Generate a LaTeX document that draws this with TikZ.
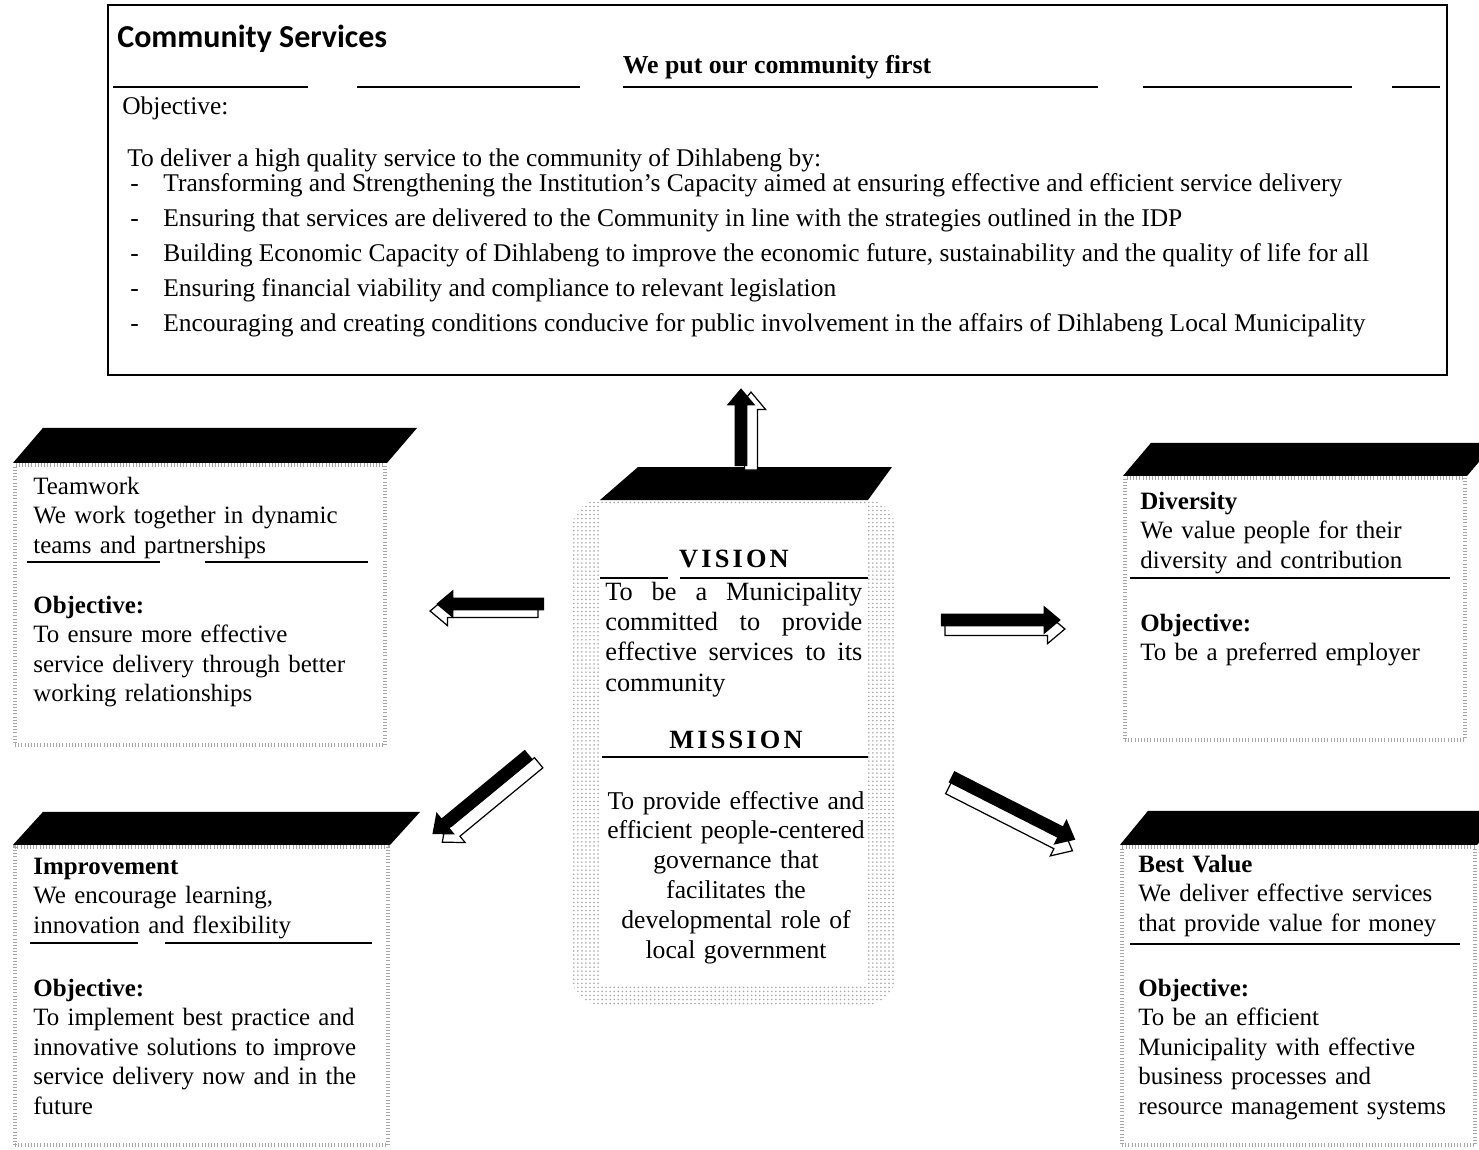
\documentclass[tikz,border=0pt]{standalone}
\usepackage{fontspec}
\setmainfont{Liberation Serif}
\newfontfamily\headfont{Carlito}
\usetikzlibrary{arrows.meta,calc,shapes.arrows,patterns.meta}

\begin{document}
\begin{tikzpicture}[
        x=0.02cm, y=-0.02cm,
        font=\fontsize{14.2}{16.8}\selectfont,
        txt/.style={anchor=base west, inner sep=0pt},
        para/.style={anchor=base west, inner sep=0pt, text width=8cm, align=left},
        ctr/.style={anchor=base, inner sep=0pt},
        toptxt/.style={font=\fontsize{14.5}{17}\selectfont},
        headword/.style={font=\bfseries\fontsize{15}{17}\selectfont\addfontfeature{LetterSpace=12}},
        frame/.style={draw=gray!70, line width=2.4pt, dash pattern=on 0.5pt off 1.3pt, inner sep=0pt},
        ring/.style={rounded corners=16pt, pattern={Dots[distance=2.3pt, radius=0.5pt]}, pattern color=gray!70, inner sep=0pt},
        lid/.style={fill=black},
        rule/.style={line width=0.7pt},
        blk/.style={single arrow, fill=black, inner sep=3.4pt, single arrow head extend=4.6pt,
            single arrow tip angle=80, sloped, allow upside down},
        blkshade/.style={single arrow, draw=black, fill=white, line width=0.7pt, inner sep=3.4pt,
            single arrow head extend=4.6pt, single arrow tip angle=80, sloped, allow upside down}
    ]
    \fill[white] (0,0) rectangle (1479,1149);
    \useasboundingbox (0,0) rectangle (1479,1149);

    % community services
    \node[draw, line width=1pt, minimum width=26.78cm, minimum height=7.4cm, inner sep=0pt] (cs) at (777.5,190) {};
    \node[txt, font=\headfont\bfseries\fontsize{18.2}{21}\selectfont] (title) at (117,48) {Community Services};
    \node[ctr, font=\bfseries\fontsize{14.7}{17}\selectfont] (motto) at (777,73) {We put our community first};
    \foreach \a/\b in {113/308, 357/580, 623/1098, 1143/1352, 1392/1440}
        \draw[rule] (\a,87) -- (\b,87);
    \node[txt, toptxt] (cshd) at (122,114) {Objective:};
    \node[txt, toptxt] (intro) at (127,166) {To deliver a high quality service to the community of Dihlabeng by:};
    \foreach \t [count=\i] in {
        {Transforming and Strengthening the Institution's Capacity aimed at ensuring effective and efficient service delivery},
        {Ensuring that services are delivered to the Community in line with the strategies outlined in the IDP},
        {Building Economic Capacity of Dihlabeng to improve the economic future, sustainability and the quality of life for all},
        {Ensuring financial viability and compliance to relevant legislation},
        {Encouraging and creating conditions conducive for public involvement in the affairs of Dihlabeng Local Municipality}} {
        \node[txt, toptxt] (dash\i) at (130,156+35*\i) {-};
        \node[txt, toptxt] (goal\i) at (163,156+35*\i) {\t};
    }

    % vision and mission
    \node[ring, minimum width=6.46cm, minimum height=10.1cm] (vm) at (733.5,752.5) {};
    \node[fill=white, inner sep=0pt, minimum width=5.36cm, minimum height=9.6cm] (vmin) at (734,745) {};
    \fill[lid] (600,500) -- (638,467) -- (892,467) -- (868,500) -- cycle;
    \node[ctr, headword] (vis) at (734,567) {VISION};
    \draw[rule] (600,578) -- (668,578) (680,578) -- (868,578);
    \node[txt, text width=5.14cm, align=justify, font=\fontsize{15}{17.3}\selectfont] (vistxt) at (605,600)
        {To be a Municipality\linebreak committed to provide\linebreak effective services to its\linebreak community};
    \node[ctr, headword] (mis) at (736,748) {MISSION};
    \draw[rule] (602,757) -- (868,757);
    \node[ctr, text width=5.36cm, align=center, font=\fontsize{14.6}{17}\selectfont] (mistxt) at (736,809)
        {To provide effective and\\efficient people-centered\\governance that\\facilitates the\\developmental role of\\local government};

    % value boxes
    \node[frame, minimum width=7.4cm, minimum height=5.6cm] (team) at (200,605) {};
    \fill[lid] (team.north west) -- ++(30,-35) -- ($(team.north east)+(30,-35)$) -- (team.north east) -- cycle;
    \node[para] (teamhd) at (33,494) {Teamwork\\We work together in dynamic\\teams and partnerships};
    \draw[rule] (27,562) -- (160,562) (205,562) -- (368,562);
    \node[para] (teamob) at (33,613) {\textbf{Objective:}\\To ensure more effective\\service delivery through better\\working relationships};

    \node[frame, minimum width=6.8cm, minimum height=5.24cm] (div) at (1295,609) {};
    \fill[lid] (div.north west) -- ++(28,-33) -- ($(div.north east)+(28,-33)$) -- (div.north east) -- cycle;
    \node[para] (divhd) at (1140,509) {\textbf{Diversity}\\We value people for their\\diversity and contribution};
    \draw[rule] (1130,578) -- (1450,578);
    \node[para] (divob) at (1140,631) {\textbf{Objective:}\\To be a preferred employer};

    \node[frame, minimum width=7.46cm, minimum height=5.96cm] (imp) at (201.5,996) {};
    \fill[lid] (imp.north west) -- ++(30,-33) -- ($(imp.north east)+(30,-33)$) -- (imp.north east) -- cycle;
    \node[para] (imphd) at (33,874) {\textbf{Improvement}\\We encourage learning,\\innovation and flexibility};
    \draw[rule] (30,943) -- (138,943) (165,943) -- (372,943);
    \node[para] (impob) at (33,996) {\textbf{Objective:}\\To implement best practice and\\innovative solutions to improve\\service delivery now and in the\\future};

    \node[frame, minimum width=7.06cm, minimum height=5.96cm] (best) at (1298.5,996) {};
    \fill[lid] (best.north west) -- ++(28,-34) -- ($(best.north east)+(28,-34)$) -- (best.north east) -- cycle;
    \node[para] (besthd) at (1138,872) {\textbf{Best Value}\\We deliver effective services\\that provide value for money};
    \draw[rule] (1130,944) -- (1460,944);
    \node[para] (bestob) at (1138,996) {\textbf{Objective:}\\To be an efficient\\Municipality with effective\\business processes and\\resource management systems};

    % arrows
    \coordinate (upS) at (741,470);  \coordinate (upE) at (741,392);
    \coordinate (lfS) at (548,604);  \coordinate (lfE) at (440,604);
    \coordinate (rtS) at (937,620);  \coordinate (rtE) at (1057,620);
    \coordinate (llS) at (532,752);  \coordinate (llE) at (435,832);
    \coordinate (lrS) at (948,775);  \coordinate (lrE) at (1072,838);
    \foreach \s/\e/\l/\dx/\dy in {upS/upE/1.56/10/4, lfS/lfE/2.16/-6/7, rtS/rtE/2.4/4/9,
                                  llS/llE/2.5/10/8, lrS/lrE/2.78/-3/11} {
        \path[transform canvas={shift={(\dx,\dy)}}] (\s) -- node[blkshade, minimum height=\l cm] (sh\s) {} (\e);
        \path (\s) -- node[blk, minimum height=\l cm] (ar\s) {} (\e);
    }
\end{tikzpicture}
\end{document}
